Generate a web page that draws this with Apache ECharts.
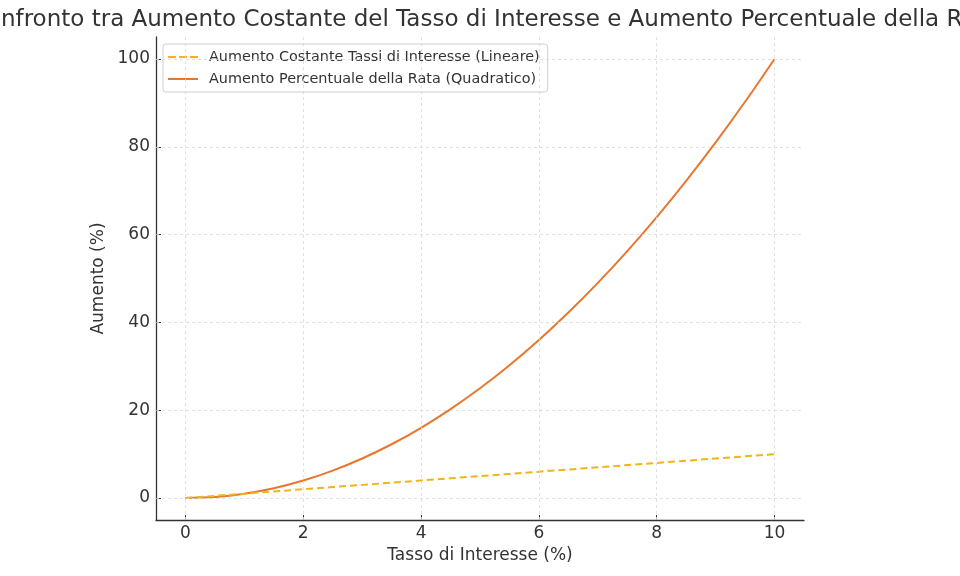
<!DOCTYPE html>
<html>
<head>
<meta charset="utf-8">
<script src="https://cdn.jsdelivr.net/npm/echarts@6/dist/echarts.min.js"></script>
<style>
  html, body { margin: 0; padding: 0; background: #fff; }
  #chart { width: 960px; height: 576px; }
</style>
</head>
<body>
<div id="chart"></div>
<script>
const tassi = [0, 0.5, 1, 1.5, 2, 2.5, 3, 3.5, 4, 4.5, 5, 5.5, 6, 6.5, 7, 7.5, 8, 8.5, 9, 9.5, 10];
const lineare = [0, 0.5, 1, 1.5, 2, 2.5, 3, 3.5, 4, 4.5, 5, 5.5, 6, 6.5, 7, 7.5, 8, 8.5, 9, 9.5, 10];
const quadratico = [0, 0.25, 1, 2.25, 4, 6.25, 9, 12.25, 16, 20.25, 25, 30.25, 36, 42.25, 49, 56.25, 64, 72.25, 81, 90.25, 100];
const xTicks = [0, 2, 4, 6, 8, 10];
const yTicks = [0, 20, 40, 60, 80, 100];

const font = 'DejaVu Sans';
const textColor = '#333';

const chart = echarts.init(document.getElementById('chart'));

function axisCommon(ticks, margin) {
    return {
        axisLine: { show: true, onZero: false, lineStyle: { color: '#333', width: 1.3 } },
        axisTick: { show: true, inside: true, length: 5, customValues: ticks, lineStyle: { color: '#333', width: 1 } },
        splitLine: { show: false },
        axisLabel: { color: textColor, fontFamily: font, fontSize: 17, margin: margin, customValues: ticks },
        nameTextStyle: { color: textColor, fontFamily: font, fontSize: 17 }
    };
}

chart.setOption({
    animation: false,
    textStyle: { fontFamily: font },
    title: {
        text: 'Confronto tra Aumento Costante del Tasso di Interesse e Aumento Percentuale della Rata',
        left: 480,
        textAlign: 'center',
        top: 4,
        textStyle: { color: textColor, fontFamily: font, fontSize: 23, fontWeight: 'normal' }
    },
    legend: {
        left: 163,
        top: 44,
        orient: 'vertical',
        itemWidth: 30,
        itemHeight: 10,
        itemGap: 8,
        padding: [6, 8, 6, 5],
        backgroundColor: 'rgba(255,255,255,0.8)',
        borderColor: '#d0d0d0',
        borderWidth: 1,
        borderRadius: 3,
        textStyle: { color: textColor, fontFamily: font, fontSize: 14.4, padding: [0, 0, 0, 6] },
        data: [
            { name: 'Aumento Costante Tassi di Interesse (Lineare)', icon: 'path://M0,4 L8,4 L8,6 L0,6 Z M11,4 L19,4 L19,6 L11,6 Z M22,4 L30,4 L30,6 L22,6 Z' },
            { name: 'Aumento Percentuale della Rata (Quadratico)', icon: 'path://M0,4 L30,4 L30,6 L0,6 Z' }
        ]
    },
    grid: { left: 156, right: 156, top: 37, bottom: 56, containLabel: false },
    xAxis: Object.assign(axisCommon(xTicks, 5), {
        type: 'value',
        min: -0.5,
        max: 10.5,
        name: 'Tasso di Interesse (%)',
        nameLocation: 'middle',
        nameGap: 26
    }),
    yAxis: Object.assign(axisCommon(yTicks, 6), {
        type: 'value',
        min: -5,
        max: 105,
        name: 'Aumento (%)',
        nameLocation: 'middle',
        nameGap: 46
    }),
    series: [
        {
            name: 'Aumento Costante Tassi di Interesse (Lineare)',
            type: 'line',
            data: tassi.map((x, i) => [x, lineare[i]]),
            showSymbol: false,
            color: '#f2b31b',
            lineStyle: { color: '#f2b31b', width: 2, type: [7, 4] },
            z: 3
        },
        {
            name: 'Aumento Percentuale della Rata (Quadratico)',
            type: 'line',
            data: tassi.map((x, i) => [x, quadratico[i]]),
            showSymbol: false,
            smooth: 0.3,
            color: '#e8772e',
            lineStyle: { color: '#e8772e', width: 2 },
            z: 2
        },
        {
            // griglia tratteggiata ai valori dei tick
            type: 'line',
            data: [],
            silent: true,
            markLine: {
                silent: true,
                symbol: 'none',
                label: { show: false },
                lineStyle: { color: '#d9d9d9', type: [3, 3], width: 0.8 },
                data: xTicks.map(v => ({ xAxis: v })).concat(yTicks.map(v => ({ yAxis: v })))
            },
            z: 1
        }
    ]
});
</script>
</body>
</html>
